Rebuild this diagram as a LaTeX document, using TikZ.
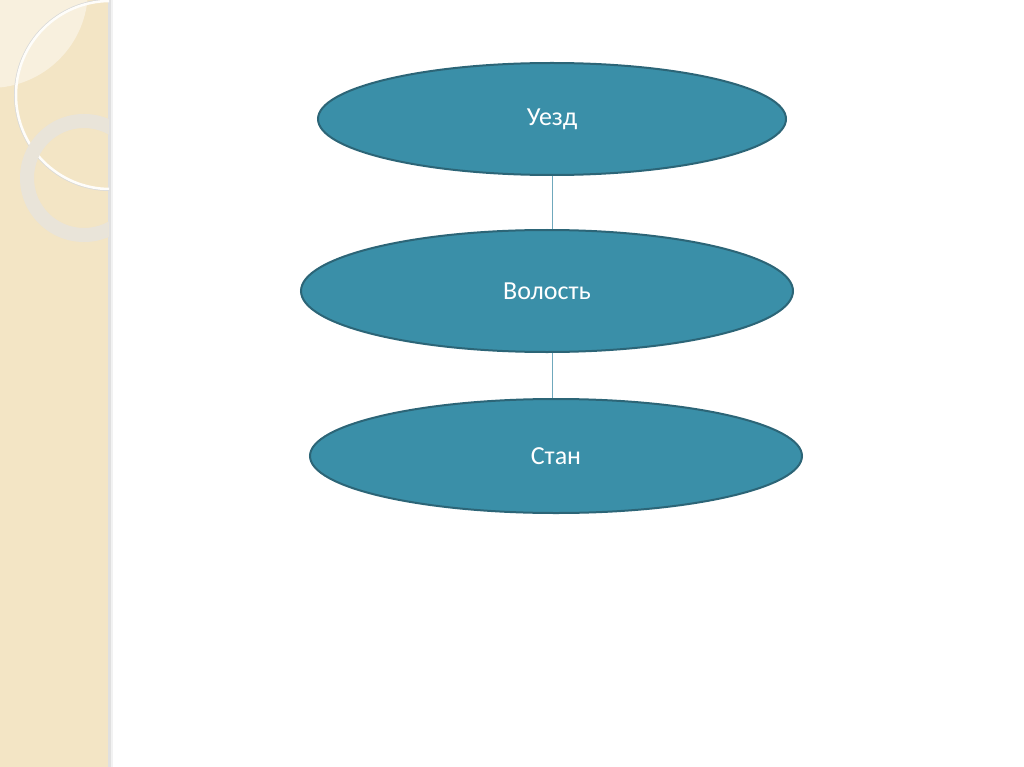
\documentclass[tikz,border=0pt]{standalone}
\usepackage{fontspec}
\setmainfont{Carlito}
\usetikzlibrary{shapes.geometric}
\definecolor{beige}{HTML}{F3E5C5}
\definecolor{beigelight}{HTML}{F8F0DE}
\definecolor{ringgrey}{HTML}{E9E4D9}
\definecolor{ellfill}{HTML}{3A8FA8}
\definecolor{elldraw}{HTML}{2C6577}
\definecolor{linkcol}{HTML}{6FA8BC}
\tikzset{
  lvl/.style={ellipse, draw=elldraw, line width=2pt, fill=ellfill, text=white,
    font=\fontsize{26}{30}\selectfont, inner sep=0pt},
  link/.style={draw=linkcol, line width=1pt}
}
\begin{document}
\begin{tikzpicture}[x=1pt,y=-1pt]
\useasboundingbox (0,0) rectangle (1024,767);
\fill[white] (0,0) rectangle (1024,767);
% left decorative strip
\fill[beige] (0,0) rectangle (109,767);
\fill[black!12] (108,0) rectangle (111,767);
\fill[black!5] (111,0) rectangle (113,767);
\begin{scope}
  \clip (0,0) rectangle (109,767);
  \fill[beigelight] (-10,-10) circle (98);
  \draw[black!15, line width=1pt] (110,95) circle (95.5);
  \draw[white!92!beige, line width=2.5pt] (110,95) circle (94);
  \fill[ringgrey, even odd rule] (84,178) circle (64) (84,178) circle (50);
\end{scope}
% nodes
\node[lvl, minimum width=468, minimum height=112] (u) at (552,119) {Уезд};
\node[lvl, minimum width=492, minimum height=122] (v) at (547,291) {Волость};
\node[lvl, minimum width=492, minimum height=114] (s) at (556,456) {Стан};
% links
\draw[link] (u.south -| 552,0) -- (v.north -| 552,0);
\draw[link] (v.south -| 552,0) -- (s.north -| 552,0);
\end{tikzpicture}
\end{document}
